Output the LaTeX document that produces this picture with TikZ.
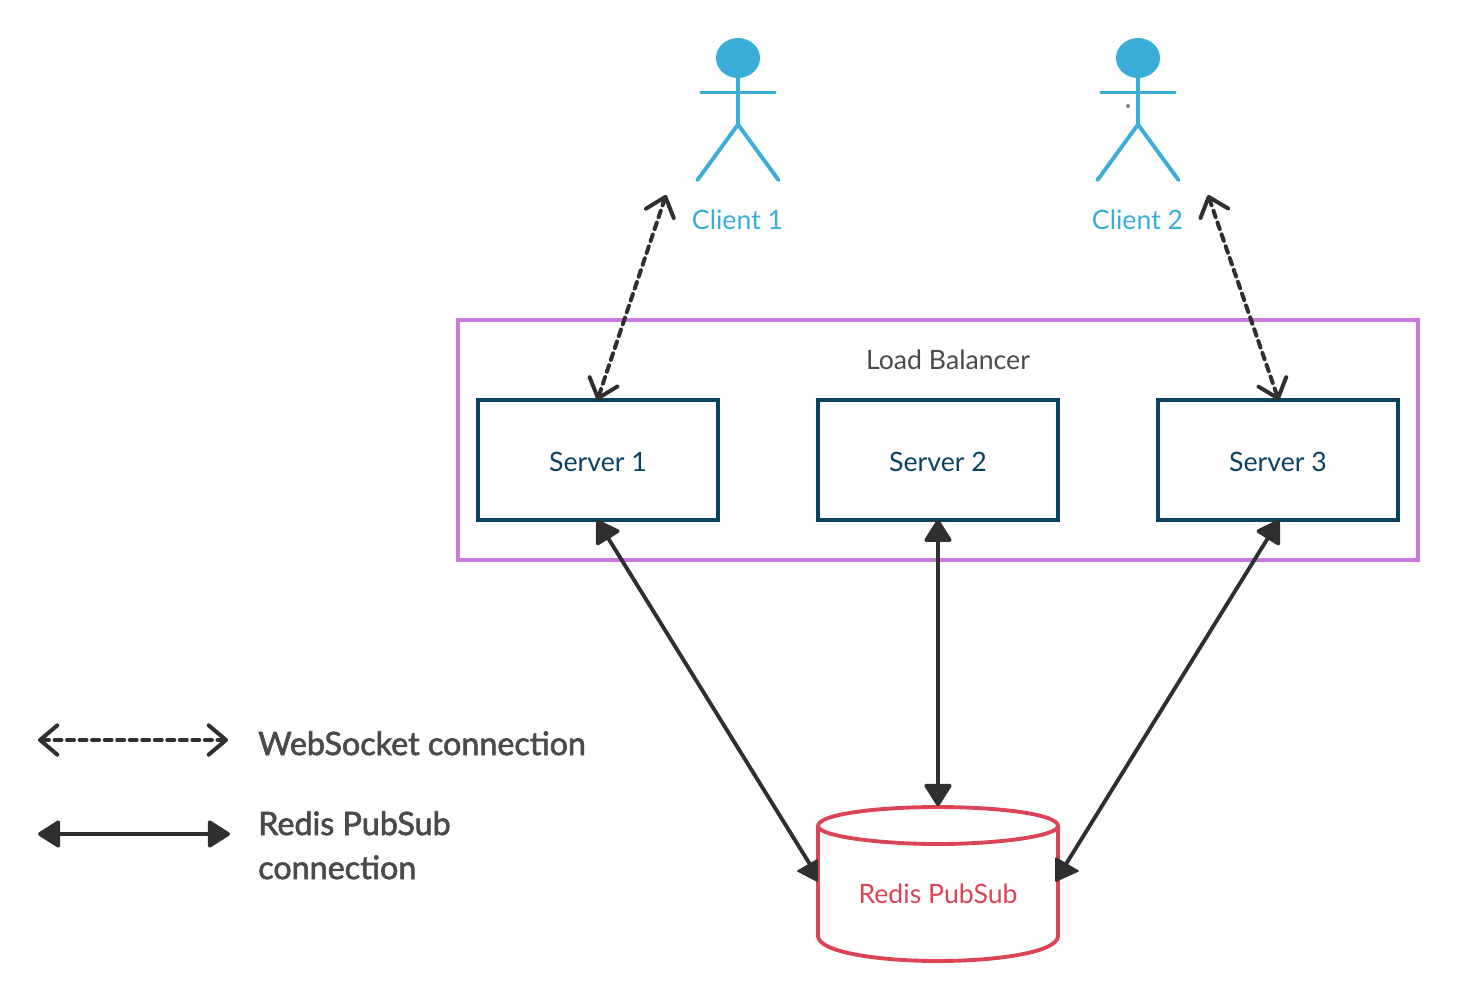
\documentclass[tikz,border=0pt]{standalone}
\usepackage{fontspec}
\setmainfont{Lato}
\newfontfamily\legendfont[FakeBold=2]{Lato}
\usetikzlibrary{arrows.meta}
\definecolor{lbpurple}{HTML}{CB78DC}
\definecolor{srvnavy}{HTML}{0B4261}
\definecolor{clblue}{HTML}{3AADD9}
\definecolor{rdred}{HTML}{DB4455}
\definecolor{arrowdark}{HTML}{2F2F2F}
\definecolor{txtgray}{HTML}{4A4A4A}
\newcommand{\stickfigure}[1]{%
  \fill[clblue] (#1+0,58) ellipse [x radius=22,y radius=20];
  \draw[actor] (#1+0,70) -- (#1+0,124);
  \draw[actor] (#1-36.5,92.5) -- (#1+36.5,92.5);
  \draw[actor] (#1-40.5,180) -- (#1+0,124.5) -- (#1+40.5,180);
}
\tikzset{
  x=0.75pt,y=-0.75pt,
  actor/.style={draw=clblue,line width=2.9pt,line cap=round,line join=round},
  serverbox/.style={draw=srvnavy,line width=2.6pt,minimum width=180pt,minimum height=90pt,inner sep=0pt,text=srvnavy,text height=16.5pt,text depth=0pt,font=\fontsize{20}{24}\selectfont},
  clientlabel/.style={text=clblue,inner sep=0pt,font=\fontsize{20}{24}\selectfont},
  wsarrow/.style={draw=arrowdark,line width=3pt,line cap=round,dash pattern=on 5.2pt off 4.2pt,
    {Straight Barb[length=13pt,width=22pt,line width=3pt,round]}-{Straight Barb[length=13pt,width=22pt,line width=3pt,round]}},
  psline/.style={draw=arrowdark,line width=2.9pt},
  pstip/.style={fill=arrowdark,draw=arrowdark,line width=1.2pt,line join=round},
  tipboth/.style={{Triangle[length=18pt,width=22pt,round]}-{Triangle[length=18pt,width=22pt,round]}},
  tipstart/.style={{Triangle[length=18pt,width=22pt,round]}-},
  legendtext/.style={text=txtgray,inner sep=0pt,anchor=north west,align=left,font=\legendfont\fontsize{24.2}{33}\selectfont},
}
\begin{document}
\begin{tikzpicture}
\useasboundingbox (0,0) rectangle (1458,1001);
% load balancer
\node[draw=lbpurple,line width=2.6pt,minimum width=720pt,minimum height=180pt,inner sep=0pt] (lb) at (938,440) {};
\node[text=txtgray,inner sep=0pt,font=\fontsize{20}{24}\selectfont] (lblabel) at (948,360) {Load Balancer};
% servers
\node[serverbox] (s1) at (598,460) {Server 1};
\node[serverbox] (s2) at (938,460) {Server 2};
\node[serverbox] (s3) at (1278,460) {Server 3};
% clients
\stickfigure{738}
\stickfigure{1138}
\fill[gray] (1128,106) circle [radius=2];
\node[clientlabel] (c1) at (737.5,220) {Client 1};
\node[clientlabel] (c2) at (1137.5,220) {Client 2};
\coordinate (c1end) at (666,195);
\coordinate (c2end) at (1208,195);
% redis
\path[draw=rdred,line width=2.9pt,line join=round]
  (818,826) .. controls (818,814) and (878,807) .. (938,807)
  .. controls (998,807) and (1058,814) .. (1058,826)
  -- (1058,936) .. controls (1058,952) and (998,961) .. (938,961)
  .. controls (878,961) and (818,952) .. (818,936) -- cycle;
\draw[rdred,line width=2.9pt]
  (818,826) .. controls (818,836) and (878,844) .. (938,844)
  .. controls (998,844) and (1058,836) .. (1058,826);
\node[text=rdred,inner sep=0pt,font=\fontsize{20}{24}\selectfont] (redis) at (938,894) {Redis PubSub};
\coordinate (rtop) at (938,806);
\coordinate (rleft) at (811,866);
\coordinate (rright) at (1066,864);
% websocket connections
\draw[wsarrow,shorten >=-1.5pt] (c1end) -- (s1.north);
\draw[wsarrow,shorten >=-1.5pt] (c2end) -- (s3.north);
% pubsub connections
\draw[psline,tipstart,shorten <=-1.5pt] (s1.south) -- (rleft);
\draw[psline,tipboth,shorten <=-1.5pt] (s2.south) -- (rtop);
\draw[psline,tipstart,shorten <=-1.5pt] (s3.south) -- (rright);
\fill[pstip] (798,871) -- (817,860) -- (817,881) -- cycle;
\fill[pstip] (1078,871) -- (1056,858) -- (1056,881) -- cycle;
% legend
\coordinate (wsa) at (38,740);
\coordinate (wsb) at (228,740);
\coordinate (psa) at (38,834);
\coordinate (psb) at (230,834);
\draw[wsarrow] (wsa) -- (wsb);
\draw[psline,tipboth] (psa) -- (psb);
\node[legendtext] (wslabel) at (258,731) {WebSocket connection};
\node[legendtext] (pslabel) at (258,811) {Redis PubSub\\connection};
\end{tikzpicture}
\end{document}
